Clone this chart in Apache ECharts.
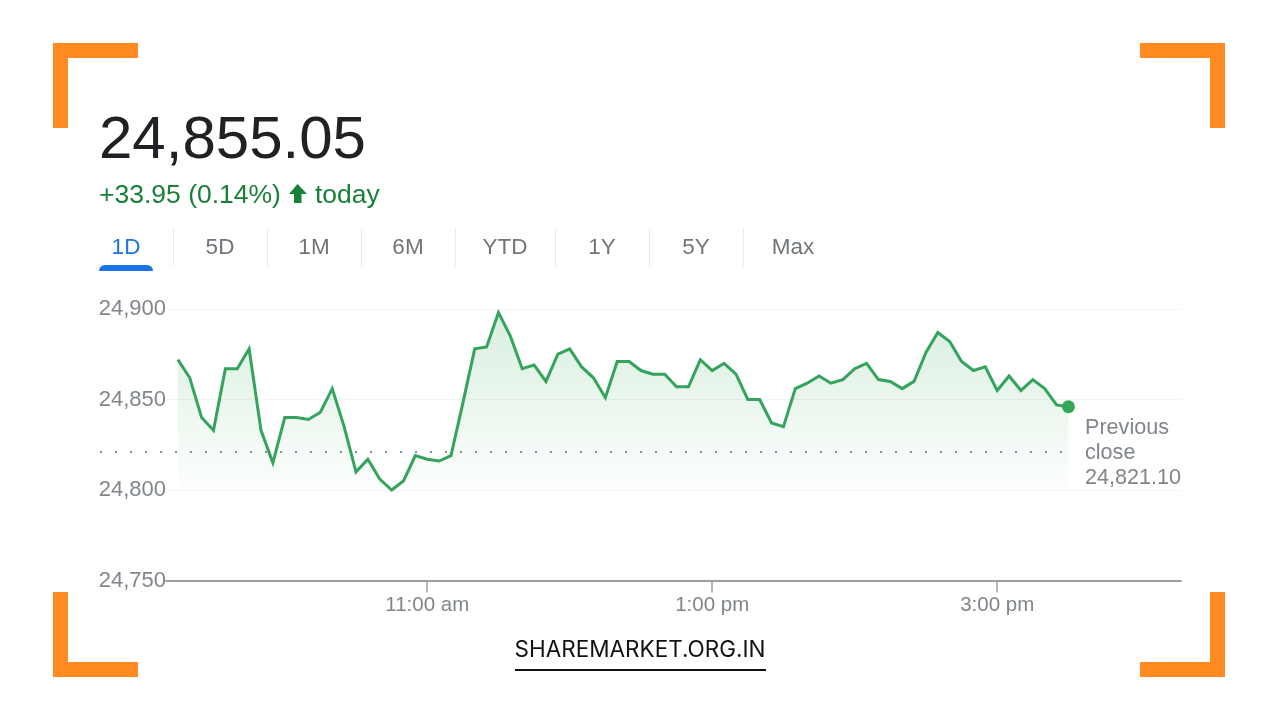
<!DOCTYPE html>
<html>
<head>
<meta charset="utf-8">
<title>24,855.05</title>
<style>
    html, body { margin: 0; padding: 0; background: #fff; }
    #chart { width: 1280px; height: 720px; }
</style>
<script src="https://cdn.jsdelivr.net/npm/echarts@6/dist/echarts.min.js"></script>
</head>
<body>
<div id="chart"></div>
<script>
// minutes since midnight, 5 min steps from 9:15 to 15:30
const times = [
    555, 560, 565, 570, 575, 580, 585, 590, 595, 600, 605, 610, 615, 620, 625, 630, 635, 640, 645,
    650, 655, 660, 665, 670, 675, 680, 685, 690, 695, 700, 705, 710, 715, 720, 725, 730, 735, 740,
    745, 750, 755, 760, 765, 770, 775, 780, 785, 790, 795, 800, 805, 810, 815, 820, 825, 830, 835,
    840, 845, 850, 855, 860, 865, 870, 875, 880, 885, 890, 895, 900, 905, 910, 915, 920, 925, 930
];
const prices = [
    24872, 24862, 24840, 24833, 24867, 24867, 24878, 24833, 24815, 24840, 24840, 24839, 24843, 24856, 24835, 24810, 24817, 24806, 24800,
    24805, 24819, 24817, 24816, 24819, 24848, 24878, 24879, 24898, 24885, 24867, 24869, 24860, 24875, 24878, 24868, 24862, 24851, 24871,
    24871, 24866, 24864, 24864, 24857, 24857, 24872, 24866, 24870, 24864, 24850, 24850, 24837, 24835, 24856, 24859, 24863, 24859, 24861,
    24867, 24870, 24861, 24860, 24856, 24860, 24876, 24887, 24882, 24871, 24866, 24868, 24855, 24863, 24855, 24861, 24856, 24847, 24846
];
const previous_close = 24821.10;
const tick_values = [660, 780, 900];
const tick_labels = ['11:00 am', '1:00 pm', '3:00 pm'];
const range_tabs = ['1D', '5D', '1M', '6M', 'YTD', '1Y', '5Y', 'Max'];
const tab_centers = [126, 220, 314, 408, 505, 602, 696, 793];
const tab_dividers = [173, 267, 361, 455, 555, 649, 743];

const GREY = '#80868b';
const ORANGE = '#ff8a1f';
const FONT = '"Liberation Sans", Arial, sans-serif';

function text(str, x, y, size, fill, align, family) {
    return {
        type: 'text',
        silent: true,
        style: {
            text: str, x: x, y: y, fill: fill,
            font: size + 'px ' + (family || FONT),
            textAlign: align || 'left',
            textVerticalAlign: 'middle'
        }
    };
}
function box(x, y, w, h, fill, r) {
    return { type: 'rect', silent: true, shape: { x: x, y: y, width: w, height: h, r: r || 0 }, style: { fill: fill } };
}

// 四角的橙色边框
const corners = [
    box(53, 43, 85, 15, ORANGE), box(53, 43, 15, 85, ORANGE),
    box(1140, 43, 85, 15, ORANGE), box(1210, 43, 15, 85, ORANGE),
    box(53, 662, 85, 15, ORANGE), box(53, 592, 15, 85, ORANGE),
    box(1140, 662, 85, 15, ORANGE), box(1210, 592, 15, 85, ORANGE)
];
// 时间范围 tab 栏
const tabs = range_tabs.map(function (name, i) {
    return text(name, tab_centers[i], 248, 22.5, i === 0 ? '#1a73e8' : '#70757a', 'center');
});
const dividers = tab_dividers.map(function (x) {
    return box(x, 229, 1, 37, '#e8eaed');
});

const my_echart = echarts.init(document.querySelector('#chart'), null, { renderer: 'canvas' });
let option = {
    animation: false,
    backgroundColor: '#fff',
    grid: { left: 166, right: 99, top: 309, bottom: 139.5 },
    xAxis: {
        type: 'value',
        min: 550,
        max: 977.4,
        splitLine: { show: false },
        axisLine: { show: true, lineStyle: { color: '#9aa0a6', width: 2 } },
        axisTick: { show: true, customValues: tick_values, length: 12, lineStyle: { color: '#9aa0a6', width: 1.5 } },
        axisLabel: {
            customValues: tick_values,
            color: GREY,
            fontFamily: FONT,
            fontSize: 20.5,
            margin: 14,
            formatter: function (v) { return tick_labels[tick_values.indexOf(v)]; }
        }
    },
    yAxis: {
        type: 'value',
        min: 24750,
        max: 24900,
        interval: 50,
        axisLine: { show: false },
        axisTick: { show: false },
        splitLine: { lineStyle: { color: '#f4f4f4', width: 1 } },
        axisLabel: {
            color: GREY,
            fontFamily: FONT,
            fontSize: 22,
            margin: 0,
            verticalAlign: 'middle',
            padding: [4, 0, 0, 0],
            formatter: function (v) { return v.toLocaleString('en-US'); }
        }
    },
    series: [
        {
            type: 'line',
            data: times.map(function (t, i) { return [t, prices[i]]; }),
            showSymbol: false,
            lineStyle: { color: '#34a45c', width: 3, join: 'miter' },
            areaStyle: {
                origin: 24790,
                color: new echarts.graphic.LinearGradient(0, 0, 0, 1, [
                    { offset: 0, color: 'rgba(52,168,83,0.27)' },
                    { offset: 0.9, color: 'rgba(52,168,83,0.02)' },
                    { offset: 1, color: 'rgba(52,168,83,0)' }
                ])
            },
            markLine: {
                silent: true,
                symbol: 'none',
                label: { show: false },
                lineStyle: { color: '#8a8f94', type: [2, 13], width: 2, cap: 'butt' },
                data: [[
                    { x: 100, yAxis: previous_close },
                    { x: 1073, yAxis: previous_close }
                ]]
            }
        },
        {
            // 最新点
            type: 'scatter',
            data: [[times[times.length - 1], prices[prices.length - 1]]],
            symbolSize: 13,
            itemStyle: { color: '#34a853', opacity: 1 }
        }
    ],
    graphic: {
        elements: corners.concat(tabs, dividers, [
            text('24,855.05', 99, 141, 60, '#202124'),
            text('+33.95 (0.14%)', 99, 196, 26.5, '#188038'),
            {
                type: 'polygon',
                silent: true,
                shape: { points: [[297.5, 184], [307, 194], [301.5, 194], [301.5, 203], [294, 203], [294, 194], [289, 194]] },
                style: { fill: '#188038' }
            },
            text('today', 315, 196, 26.5, '#188038'),
            box(99, 265, 54, 6, '#1a73e8', [6, 6, 0, 0]),
            text('Previous', 1085, 428, 21.6, GREY),
            text('close', 1085, 453, 21.6, GREY),
            text('24,821.10', 1085, 478, 21.6, GREY),
            text('SHAREMARKET.ORG.IN', 640, 650, 22.5, '#111', 'center', 'Inter'),
            box(515, 669, 251, 2, '#111')
        ])
    }
};
my_echart.setOption(option);
</script>
</body>
</html>
